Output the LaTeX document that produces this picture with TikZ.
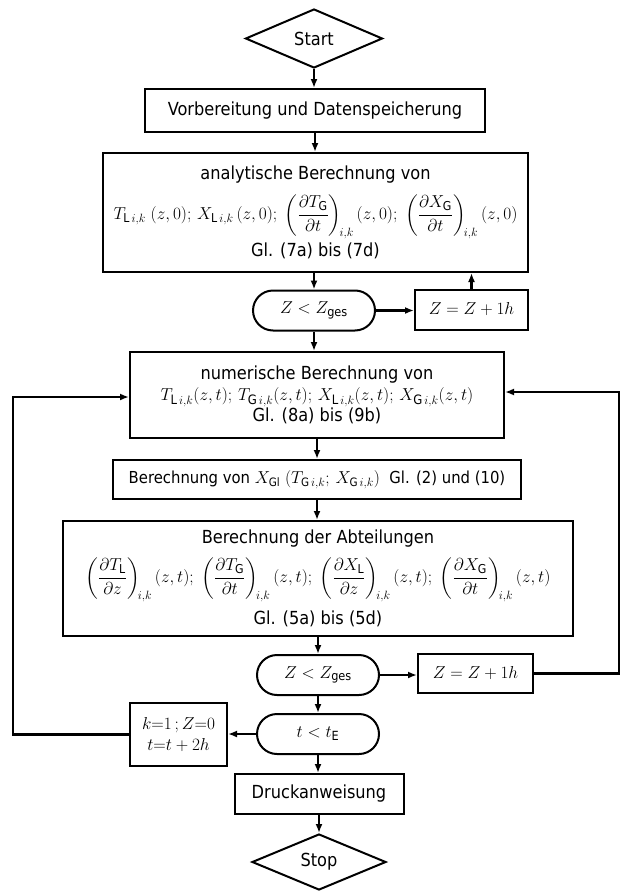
\documentclass[tikz,border=0pt]{standalone}
\usepackage{amsmath}
\usepackage{fontspec}
\setmainfont{DejaVu Sans Condensed}
\usetikzlibrary{arrows.meta,shapes.geometric}
\newcommand\myfs{\fontsize{18}{21}\selectfont}
\newcommand\pdr[2]{\left(\dfrac{\partial #1}{\partial #2}\right)}
\newcommand\ts[1]{\text{#1}}
\begin{document}
\begin{tikzpicture}[x=1pt,y=-1pt,
  every node/.style={font=\myfs, align=center, inner sep=0pt},
  blk/.style={draw, line width=2pt, rectangle},
  term/.style={draw, line width=2pt, rectangle, rounded corners=20pt, minimum width=122pt, minimum height=40pt},
  dia/.style={draw, line width=2pt, diamond},
  conn/.style={line width=2.2pt, -{Latex[length=9pt,width=7pt]}}]
\useasboundingbox (0,0) rectangle (621,891);
\fill[white] (0,0) rectangle (621,891);

\node[dia, minimum width=137pt, minimum height=59pt] (start) at (314,38.5) {Start};
\node[blk, minimum width=340pt, minimum height=43pt] (prep) at (315,110.5) {Vorbereitung und Datenspeicherung};
\node[blk, minimum width=425pt, minimum height=119pt] (ana) at (315.5,212.5)
  {analytische Berechnung von\\[10pt]
   {\fontsize{17.5}{21}\selectfont$T_{\ts{L}\,i,k}\;(z,0);\,X_{\ts{L}\,i,k}\,(z,0);\;\pdr{T_{\ts{G}}}{t}_{\!i,k}(z,0);\;\pdr{X_{\ts{G}}}{t}_{\!i,k}(z,0)$}\\[3pt]
   Gl. (7a) bis (7d)};
\node[term] (c1) at (314,310.5) {$Z < Z_{\ts{ges}}$};
\node[blk, minimum width=113pt, minimum height=40pt] (inc1) at (471.5,309.5) {$Z = Z + 1h$};

\node[blk, minimum width=374pt, minimum height=86pt] (num) at (317,395)
  {numerische Berechnung von\\
   {\fontsize{18.5}{21}\selectfont$T_{\ts{L}\,i,k}(z,t);\,T_{\ts{G}\,i,k}(z,t);\,X_{\ts{L}\,i,k}(z,t);\,X_{\ts{G}\,i,k}(z,t)$}\\
   Gl. (8a) bis (9b)};
\node[blk, minimum width=408pt, minimum height=39pt] (xgl) at (317,479.5)
  {\fontsize{16.5}{20}\selectfont Berechnung von $X_{\ts{Gl}}\;(T_{\ts{G}\,i,k};\,X_{\ts{G}\,i,k})$ \ Gl. (2) und (10)};
\node[blk, minimum width=510pt, minimum height=115pt] (abt) at (318,578.5)
  {Berechnung der Abteilungen\\[9pt]
   {\fontsize{17.5}{21}\selectfont$\pdr{T_{\ts{L}}}{z}_{\!i,k}(z,t);\;\pdr{T_{\ts{G}}}{t}_{\!i,k}(z,t);\;\pdr{X_{\ts{L}}}{z}_{\!i,k}(z,t);\;\pdr{X_{\ts{G}}}{t}_{\!i,k}(z,t)$}\\[8pt]
   Gl. (5a) bis (5d)};
\node[term] (c2) at (318,675) {$Z < Z_{\ts{ges}}$};
\node[blk, minimum width=115pt, minimum height=39pt] (inc2) at (475.5,673.5) {$Z = Z + 1h$};
\node[term] (c3) at (318,734) {$t < t_{\ts{E}}$};
\node[blk, minimum width=97pt, minimum height=63pt] (reset) at (178.5,734.5)
  {\fontsize{17}{17}\selectfont $k{=}1\,;Z{=}0$\\ \fontsize{17}{17}\selectfont $t{=}t+2h$};
\node[blk, minimum width=169pt, minimum height=40pt] (druck) at (319,794) {Druckanweisung};
\node[dia, minimum width=134pt, minimum height=56pt] (stop) at (319,862) {Stop};

\draw[conn] (start.south) -- (start.south |- prep.north);
\draw[conn] (prep.south) -- (prep.south |- ana.north);
\draw[conn] (ana.south -| c1.north) -- (c1.north);
\draw[conn] (c1.east) -- (c1.east -| inc1.west);
\draw[conn] (inc1.north) -- (inc1.north |- ana.south);
\draw[conn] (c1.south) -- (c1.south |- num.north);
\draw[conn] (num.south) -- (num.south |- xgl.north);
\draw[conn] (xgl.south) -- (xgl.south |- abt.north);
\draw[conn] (abt.south -| c2.north) -- (c2.north);
\draw[conn] (c2.east) -- (c2.east -| inc2.west);
\draw[conn] (c2.south) -- (c3.north);
\draw[conn] (c3.west) -- (c3.west -| reset.east);
\draw[conn] (c3.south) -- (c3.south |- druck.north);
\draw[conn] (druck.south) -- (druck.south |- stop.north);

\coordinate (lt) at (13,397);
\coordinate (rt) at (619,392);
\draw[conn] (reset.west) -| (lt) -- (lt -| num.west);
\draw[conn] (inc2.east) -| (rt) -- (rt -| num.east);
\end{tikzpicture}
\end{document}
